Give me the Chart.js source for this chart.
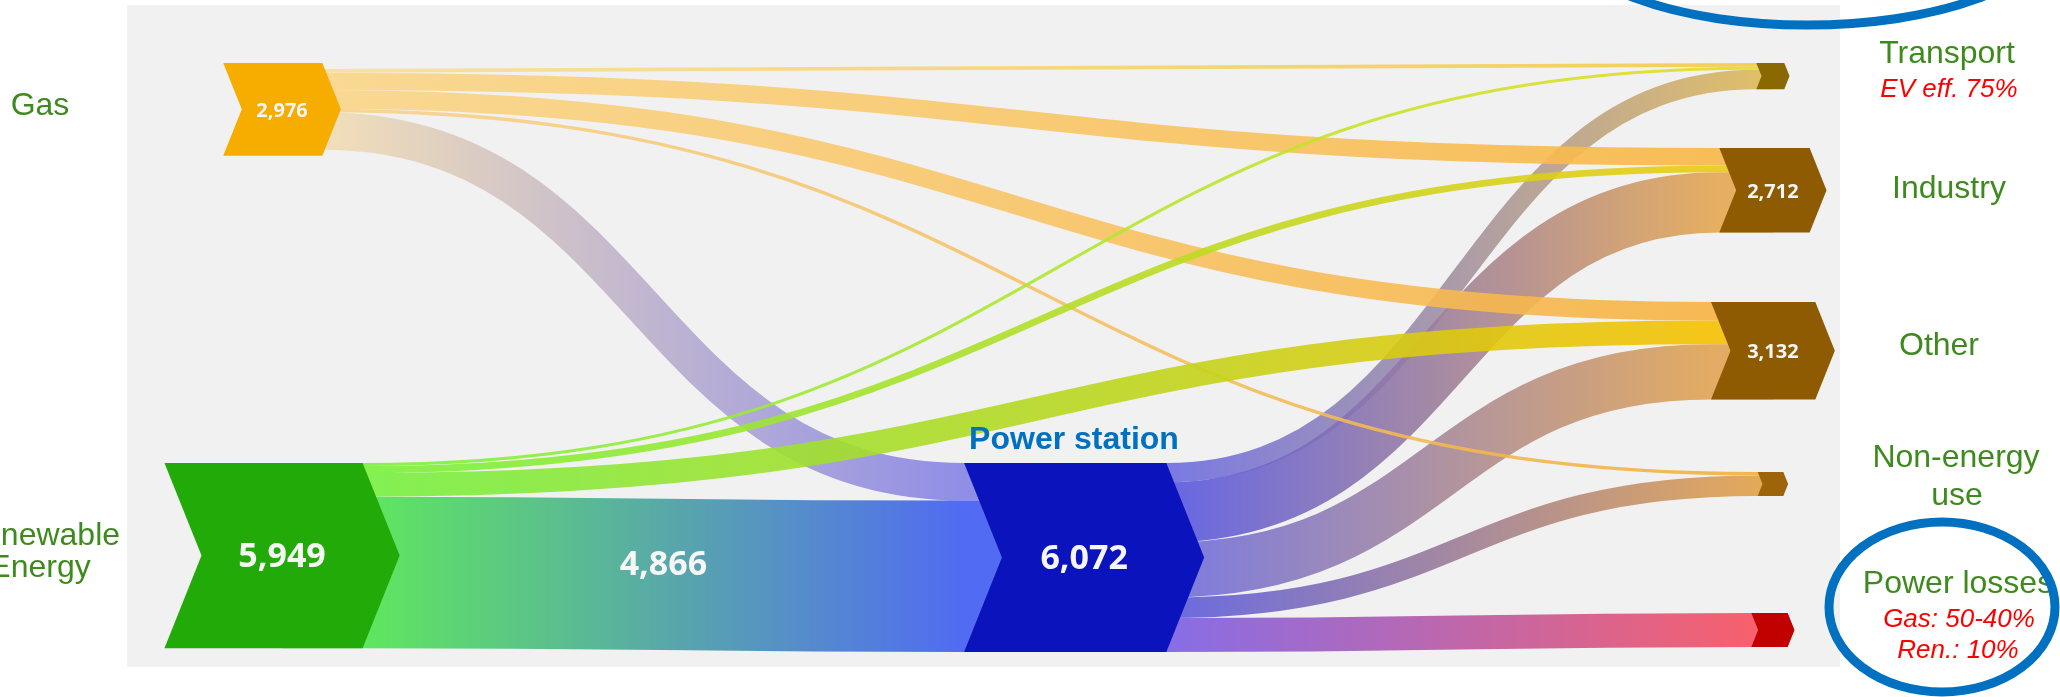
<!DOCTYPE html>
<html>
<head>
<meta charset="utf-8">
<title>Energy flows</title>
<script src="https://cdn.jsdelivr.net/npm/chart.js@4.4.1/dist/chart.umd.min.js"></script>
<style>
  html, body { margin: 0; padding: 0; background: #ffffff; }
  #wrap { width: 2060px; height: 697px; }
</style>
</head>
<body>
<div id="wrap"><canvas id="flows" width="2060" height="697"></canvas></div>
<script>
// ---- energy balance (all figures in the same unit) ----
const nodeNames = ['Gas', 'Renewable Energy', 'Power station', 'Transport', 'Industry', 'Other', 'Non-energy use', 'Power losses'];

const gasSupply = 2976;
const gasTargets = ['Transport', 'Industry', 'Other', 'Non-energy use', 'Power station'];
const gasUse = [120, 562, 599, 110, 1206];

const renewableTargets = ['Transport', 'Industry', 'Other', 'Power station'];
const renewableUse = [100, 220, 763, 4866];

const stationTargets = ['Transport', 'Industry', 'Other', 'Non-energy use', 'Power losses'];
const stationOutput = [620, 1930, 1770, 660, 1092];

// ---- layout ----
const nodeColumn = { 'Gas': 0, 'Renewable Energy': 0, 'Power station': 1, 'Transport': 2, 'Industry': 2, 'Other': 2, 'Non-energy use': 2, 'Power losses': 2 };
const columnX = [0, 0.538, 1];
// top of each node along the value axis
const nodeTop = { 'Gas': 0, 'Renewable Energy': 12850, 'Power station': 12850, 'Transport': 0, 'Industry': 2730, 'Other': 7677, 'Non-energy use': 13138, 'Power losses': 17668 };

const nodeColors = {
  'Gas': '#F6AD00',
  'Renewable Energy': '#22AB08',
  'Power station': '#0A13BC',
  'Transport': '#8A6903',
  'Industry': '#8E5B02',
  'Other': '#8E5B02',
  'Non-energy use': '#9E640A',
  'Power losses': '#C10000'
};

const flowColors = {
  'Gas>Transport': ['#F9DE9C', '#F3CB48'],
  'Gas>Industry': ['#FAD689', '#F8B746'],
  'Gas>Other': ['#FAD689', '#F7B343'],
  'Gas>Non-energy use': ['#F9D38C', '#F2B03E'],
  'Gas>Power station': ['#F2DDB2', '#8583E6'],
  'Renewable Energy>Transport': ['#7AF23C', '#E8DC22'],
  'Renewable Energy>Industry': ['#7AF23C', '#EACB12'],
  'Renewable Energy>Other': ['#76F042', '#F6C102'],
  'Renewable Energy>Power station': ['#4FE64D', '#3F5CF3'],
  'Power station>Transport': ['#6C6CE2', '#DDB95B'],
  'Power station>Industry': ['#5757E4', '#E5A751'],
  'Power station>Other': ['#6D6DE0', '#E1A353'],
  'Power station>Non-energy use': ['#5B5BE0', '#E1A14A'],
  'Power station>Power losses': ['#7B5FE6', '#F8505F']
};

// back-to-front painting order of the bands
const drawOrder = ['Power station', 'Gas>Power station', 'Renewable Energy>Power station', 'Gas', 'Renewable Energy'];

const labelGreen = '#3F8A1E';
const noteRed = '#FF0000';
const sideLabels = [
  { text: 'Gas', x: 40, y: 115, font: "32px 'Liberation Sans', Arial, sans-serif", color: labelGreen },
  { text: 'Renewable', x: 40, y: 545, font: "32px 'Liberation Sans', Arial, sans-serif", color: labelGreen },
  { text: 'Energy', x: 40, y: 577, font: "32px 'Liberation Sans', Arial, sans-serif", color: labelGreen },
  { text: 'Power station', x: 1074, y: 449, font: "bold 32px 'Liberation Sans', Arial, sans-serif", color: '#0070C0' },
  { text: 'Transport', x: 1947, y: 63, font: "32px 'Liberation Sans', Arial, sans-serif", color: labelGreen },
  { text: 'EV eff. 75%', x: 1949, y: 97, font: "italic 26px 'Liberation Sans', Arial, sans-serif", color: noteRed },
  { text: 'Industry', x: 1949, y: 198, font: "32px 'Liberation Sans', Arial, sans-serif", color: labelGreen },
  { text: 'Other', x: 1939, y: 355, font: "32px 'Liberation Sans', Arial, sans-serif", color: labelGreen },
  { text: 'Non-energy', x: 1956, y: 467, font: "32px 'Liberation Sans', Arial, sans-serif", color: labelGreen },
  { text: 'use', x: 1957, y: 505, font: "32px 'Liberation Sans', Arial, sans-serif", color: labelGreen },
  { text: 'Power losses', x: 1958, y: 593, font: "32px 'Liberation Sans', Arial, sans-serif", color: labelGreen },
  { text: 'Gas: 50-40%', x: 1959, y: 627, font: "italic 26px 'Liberation Sans', Arial, sans-serif", color: noteRed },
  { text: 'Ren.: 10%', x: 1958, y: 658, font: "italic 26px 'Liberation Sans', Arial, sans-serif", color: noteRed }
];

// ---- flows ----
const flows = [];
gasTargets.forEach((to, i) => flows.push({ from: 'Gas', to: to, value: gasUse[i] }));
renewableTargets.forEach((to, i) => flows.push({ from: 'Renewable Energy', to: to, value: renewableUse[i] }));
stationTargets.forEach((to, i) => flows.push({ from: 'Power station', to: to, value: stationOutput[i] }));

const supply = { 'Gas': gasSupply };

function sum(list) {
  return list.reduce((s, f) => s + f.value, 0);
}

function buildLayout(chart) {
  const x = chart.scales.x;
  const y = chart.scales.y;
  const px = v => y.getPixelForValue(v) - y.getPixelForValue(0);

  const nodes = {};
  nodeNames.forEach(name => {
    const inSum = sum(flows.filter(f => f.to === name));
    const outSum = sum(flows.filter(f => f.from === name));
    const value = Math.max(inSum, outSum, supply[name] || 0);
    const top = y.getPixelForValue(nodeTop[name]);
    const bottom = y.getPixelForValue(nodeTop[name] + value);
    const h = bottom - top;
    const cx = x.getPixelForValue(columnX[nodeColumn[name]]);
    const w = h * 1.27;
    nodes[name] = {
      name, value, inSum, outSum, top, bottom, h, cx,
      left: cx - w / 2, right: cx + w / 2, d: h * 0.2, mid: (top + bottom) / 2
    };
  });

  const links = flows.map(f => Object.assign({}, f, { width: px(f.value) }));

  nodeNames.forEach(name => {
    const n = nodes[name];
    const outs = links.filter(l => l.from === name)
      .sort((a, b) => nodes[a.to].mid - nodes[b.to].mid);
    let cursor = n.top + (n.h - px(n.outSum)) / 2;
    outs.forEach(l => { l.y0 = cursor + l.width / 2; cursor += l.width; });

    const ins = links.filter(l => l.to === name)
      .sort((a, b) => (nodes[a.from].cx - nodes[b.from].cx) || (nodes[a.from].mid - nodes[b.from].mid));
    cursor = n.top + (n.h - px(n.inSum)) / 2;
    ins.forEach(l => { l.y1 = cursor + l.width / 2; cursor += l.width; });
  });

  return { nodes, links };
}

function rank(link) {
  const key = link.from + '>' + link.to;
  let r = drawOrder.indexOf(key);
  if (r < 0) r = drawOrder.indexOf(link.from);
  return r;
}

function chevron(ctx, n) {
  ctx.beginPath();
  ctx.moveTo(n.left, n.top);
  ctx.lineTo(n.right - n.d, n.top);
  ctx.lineTo(n.right, n.mid);
  ctx.lineTo(n.right - n.d, n.bottom);
  ctx.lineTo(n.left, n.bottom);
  ctx.lineTo(n.left + n.d, n.mid);
  ctx.closePath();
}

const sankeyPlugin = {
  id: 'sankeyFlows',
  beforeDatasetsDraw(chart) {
    const ctx = chart.ctx;
    const area = chart.chartArea;
    const { nodes, links } = buildLayout(chart);

    ctx.save();
    ctx.fillStyle = '#F1F1F1';
    ctx.fillRect(area.left, area.top, area.right - area.left, area.bottom - area.top);

    // bands
    ctx.globalAlpha = 0.9;
    ctx.lineCap = 'butt';
    links.slice().sort((a, b) => rank(a) - rank(b)).forEach(l => {
      const s = nodes[l.from];
      const t = nodes[l.to];
      const x0 = s.right - s.d;
      const x1 = t.left;
      const xm = (x0 + x1) / 2;
      const c = flowColors[l.from + '>' + l.to];
      const g = ctx.createLinearGradient(x0, 0, x1, 0);
      g.addColorStop(0, c[0]);
      g.addColorStop(1, c[1]);
      ctx.strokeStyle = g;
      ctx.lineWidth = l.width;
      ctx.beginPath();
      ctx.moveTo(s.cx, l.y0);
      ctx.lineTo(x0, l.y0);
      ctx.bezierCurveTo(xm, l.y0, xm, l.y1, x1, l.y1);
      ctx.lineTo(t.cx, l.y1);
      ctx.stroke();
    });
    ctx.globalAlpha = 1;

    // nodes
    nodeNames.forEach(name => {
      chevron(ctx, nodes[name]);
      ctx.fillStyle = nodeColors[name];
      ctx.fill();
    });

    // values
    ctx.fillStyle = '#F6F6F6';
    ctx.textAlign = 'center';
    ctx.textBaseline = 'middle';
    nodeNames.forEach(name => {
      const n = nodes[name];
      if (n.h < 60) return;
      const size = n.h >= 150 ? 34 : 20;
      ctx.font = "bold " + size + "px 'Open Sans', sans-serif";
      ctx.fillText(n.value.toLocaleString('en-US'), n.cx, n.mid + 2);
    });
    const main = links.find(l => l.from === 'Renewable Energy' && l.to === 'Power station');
    const ms = nodes[main.from], mt = nodes[main.to];
    ctx.font = "bold 34px 'Open Sans', sans-serif";
    ctx.fillText(main.value.toLocaleString('en-US'), (ms.right - ms.d + mt.left) / 2, (ms.mid + mt.mid) / 2 + 9);
    ctx.restore();
  },
  afterDraw(chart) {
    const ctx = chart.ctx;
    ctx.save();
    ctx.textAlign = 'center';
    ctx.textBaseline = 'alphabetic';
    sideLabels.forEach(l => {
      ctx.font = l.font;
      ctx.fillStyle = l.color;
      ctx.fillText(l.text, l.x, l.y);
    });

    // highlight rings
    ctx.strokeStyle = '#0070C0';
    ctx.lineWidth = 9;
    ctx.beginPath();
    ctx.ellipse(1807, -65, 241, 90, 0, 0, Math.PI * 2);
    ctx.stroke();
    ctx.beginPath();
    ctx.ellipse(1942, 607, 113, 85, 0, 0, Math.PI * 2);
    ctx.stroke();
    ctx.restore();
  }
};

new Chart(document.getElementById('flows'), {
  type: 'scatter',
  data: { datasets: [] },
  options: {
    responsive: false,
    animation: false,
    layout: { padding: { left: 127, right: 220, top: 5, bottom: 30 } },
    plugins: {
      legend: { display: false },
      tooltip: { enabled: false }
    },
    scales: {
      x: { type: 'linear', display: false, min: -0.104, max: 1.045 },
      y: { type: 'linear', display: false, reverse: true, min: -1863, max: 19403 }
    }
  },
  plugins: [sankeyPlugin]
});
</script>
</body>
</html>
